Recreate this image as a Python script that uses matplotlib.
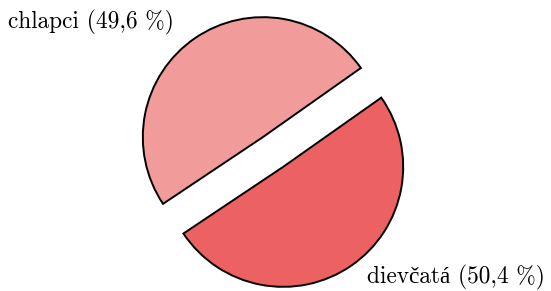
import matplotlib
matplotlib.use("Agg")
import matplotlib.pyplot as plt

# podiel chlapcov a dievčat
categories = ["chlapci", "dievčatá"]
shares = [49.6, 50.4]
colors = ["#F29B9B", "#EC6161"]

plt.rcParams["font.family"] = ["cmr10", "Liberation Serif"]
plt.rcParams["axes.formatter.use_mathtext"] = True

fig = plt.figure(figsize=(5.51, 2.91), dpi=100)
ax = fig.add_axes([0, 0, 1, 1])

ax.pie(shares, colors=colors, startangle=35.2, counterclock=True,
       explode=[0.15, 0.15], radius=1.0,
       wedgeprops=dict(edgecolor="black", linewidth=1.4))

# 1 jednotka = 120 px, stred koláča na (273, 152) px
ax.set_xlim(-273 / 120, (551 - 273) / 120)
ax.set_ylim(-(291 - 152) / 120, 152 / 120)
ax.set_aspect("auto")
ax.axis("off")

labels = [f"{c} ({v:.1f} %)".replace(".", ",") for c, v in zip(categories, shares)]
fig.text(8 / 551, 1 - 22 / 291, labels[0], fontsize=16.8, ha="left", va="center")
fig.text(545 / 551, 1 - 277 / 291, labels[1], fontsize=16.8, ha="right", va="center")

fig.savefig("out.png", dpi=100)
